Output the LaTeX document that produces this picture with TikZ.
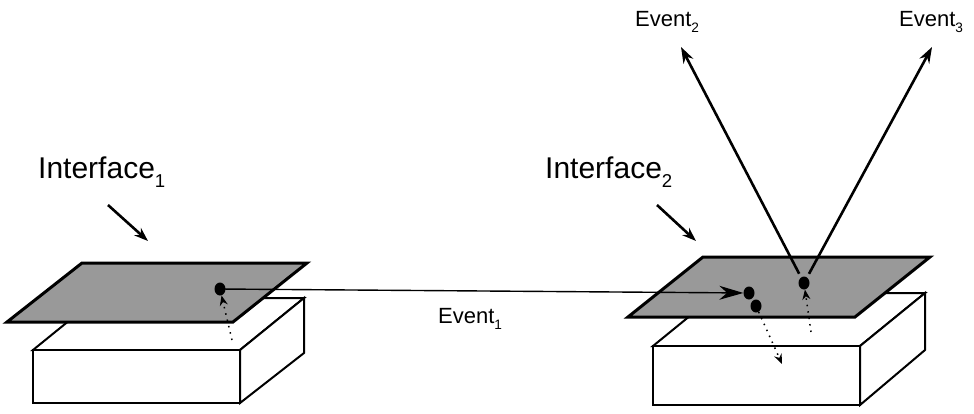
\documentclass[tikz,border=0pt]{standalone}
\usepackage{fontspec}
\setmainfont{Liberation Sans}
\usetikzlibrary{arrows.meta,shapes.geometric}
\definecolor{planegray}{RGB}{153,153,153}
\newcommand{\lowsub}[1]{\raisebox{-0.3em}{\fontsize{0.62em}{0.7em}\selectfont #1}}
\begin{document}
\begin{tikzpicture}[x=1pt,y=-1pt,
  plane/.style={draw=black,line width=3pt,fill=planegray,line join=miter},
  boxface/.style={draw=black,line width=2pt,fill=white,line join=miter},
  dot/.style={ellipse,fill=black,inner sep=0pt,minimum width=11pt,minimum height=13pt},
  event/.style={line width=2.6pt,-{Stealth[length=16pt,width=11pt]}},
  hint/.style={line width=2.6pt,-{Stealth[length=14pt,width=10pt]}},
  flow/.style={line width=1.4pt,-{Stealth[length=24pt,width=14pt]}},
  inner/.style={line width=1.5pt,dash pattern=on 1.5pt off 5pt,-{Stealth[length=10pt,width=8pt]}},
  lbl/.style={font=\fontsize{22}{26}\selectfont,inner sep=0pt,anchor=base west},
  biglbl/.style={font=\fontsize{30}{36}\selectfont,inner sep=0pt,anchor=base west}]
  \useasboundingbox (0,0) rectangle (974,413);

  % left component: box below, interface plane above
  \draw[boxface] (97,298) -- (304,298) -- (240,350) -- (33,350) -- cycle;
  \draw[boxface] (33,350) rectangle (240,403);
  \draw[boxface] (240,350) -- (304,298) -- (304,353) -- (240,403) -- cycle;
  \draw[plane] (82,263) -- (307,263) -- (233,322) -- (7,322) -- cycle;

  % right component
  \draw[boxface] (718,293) -- (925,293) -- (860,346) -- (653,346) -- cycle;
  \draw[boxface] (653,346) rectangle (860,405);
  \draw[boxface] (860,346) -- (925,293) -- (925,350) -- (860,405) -- cycle;
  \draw[plane] (703,257) -- (930,257) -- (855,317) -- (628,317) -- cycle;

  % event points on the interfaces
  \node[dot] (d1) at (220,289) {};
  \node[dot] (dA) at (749,293) {};
  \node[dot] (dB) at (756,306) {};
  \node[dot] (dC) at (804,283) {};

  % free ends
  \coordinate (u1) at (232,340);
  \coordinate (u2) at (811,332);
  \coordinate (r1) at (782,364);
  \coordinate (e2) at (681,47);
  \coordinate (e3) at (932,47);
  \coordinate (i1s) at (108,205);
  \coordinate (i1e) at (148,241);
  \coordinate (i2s) at (657,205);
  \coordinate (i2e) at (696,241);

  % internal (dotted) flows
  \draw[inner] (u1) -- (d1);
  \draw[inner] (dB) -- (r1);
  \draw[inner] (u2) -- (dC);

  % events
  \draw[flow] (d1.center) -- (dA);
  \draw[event, shorten <=4pt] (dC) -- (e2);
  \draw[event, shorten <=4pt] (dC) -- (e3);

  % interface pointers
  \draw[hint] (i1s) -- (i1e);
  \draw[hint] (i2s) -- (i2e);

  % labels
  \node[biglbl] (l1) at (38,178) {Interface\lowsub{1}};
  \node[biglbl] (l2) at (545,178) {Interface\lowsub{2}};
  \node[lbl] (t1) at (438,323) {Event\lowsub{1}};
  \node[lbl] (t2) at (635,26) {Event\lowsub{2}};
  \node[lbl] (t3) at (899,26) {Event\lowsub{3}};
\end{tikzpicture}
\end{document}
